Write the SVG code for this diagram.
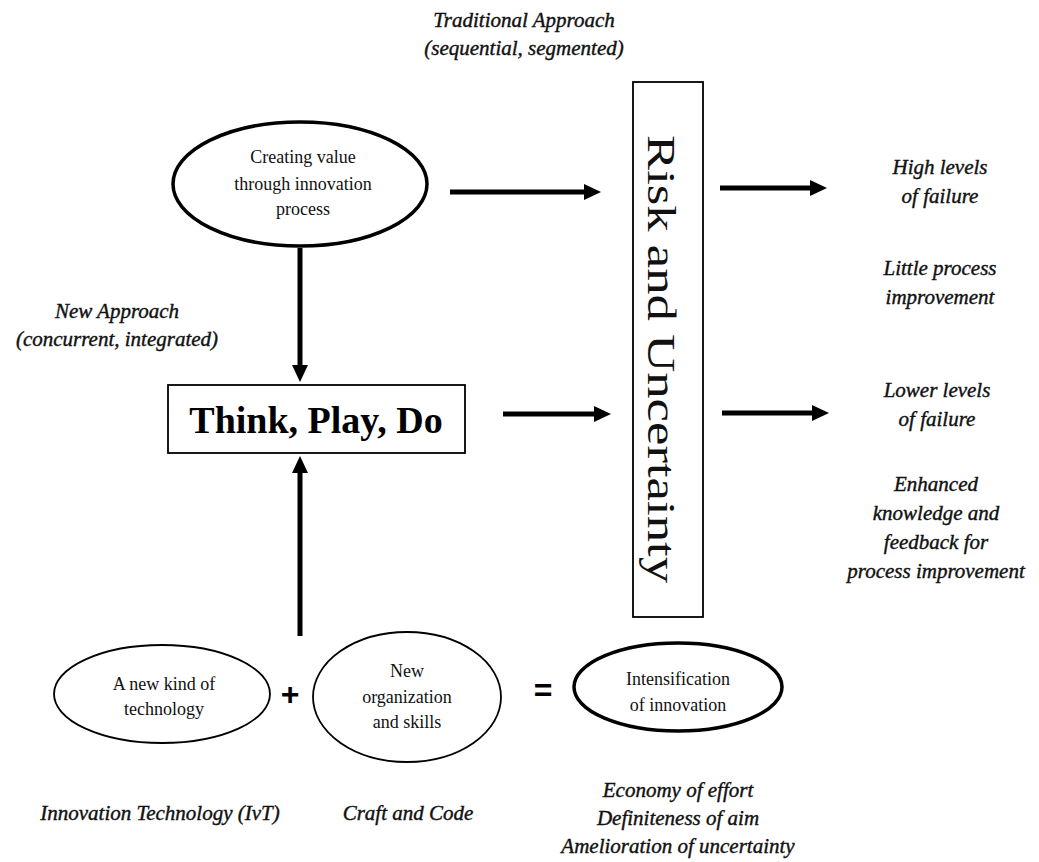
<svg xmlns="http://www.w3.org/2000/svg" width="1039" height="862" viewBox="0 0 1039 862">
  <style>
    .bg { fill: #ffffff; }
    .node-text { font-family: "Liberation Serif", "Times New Roman", serif; font-size: 18px; fill: #111; text-anchor: middle; }
    .note { font-family: "Liberation Serif", "Times New Roman", serif; font-style: italic; font-size: 21px; fill: #111; stroke: #111; stroke-width: 0.4; text-anchor: middle; }
    .thick { fill: #fff; stroke: #000; stroke-width: 3.5; }
    .thin { fill: #fff; stroke: #000; stroke-width: 1.8; }
    .box { fill: #fff; stroke: #000; stroke-width: 1.8; }
    .arrow { stroke: #000; stroke-width: 5; fill: none; marker-end: url(#head); }
    .op { font-family: "Liberation Sans", Arial, sans-serif; font-weight: bold; font-size: 32px; fill: #000; text-anchor: middle; }
  </style>
  <defs>
    <marker id="head" markerUnits="userSpaceOnUse" markerWidth="18" markerHeight="18" refX="2" refY="9" orient="auto">
      <path d="M0,1 L17,9 L0,17 Z" fill="#000"/>
    </marker>
  </defs>
  <rect class="bg" x="0" y="0" width="1039" height="862"/>

  <!-- connectors -->
  <g id="connectors">
    <line class="arrow" x1="450" y1="192" x2="586" y2="192"/>
    <line class="arrow" x1="720" y1="188" x2="812" y2="188"/>
    <line class="arrow" x1="503" y1="414" x2="596" y2="414"/>
    <line class="arrow" x1="722" y1="413" x2="814" y2="413"/>
    <line class="arrow" x1="300" y1="248" x2="300" y2="367"/>
    <line class="arrow" x1="300" y1="636" x2="300" y2="471"/>
  </g>

  <!-- top ellipse -->
  <g id="creating-value">
    <ellipse class="thick" cx="300" cy="184" rx="127" ry="62"/>
    <text class="node-text" x="303" y="163">Creating value</text>
    <text class="node-text" x="303" y="190">through innovation</text>
    <text class="node-text" x="303" y="215">process</text>
  </g>

  <!-- central box -->
  <g id="think-play-do">
    <rect class="box" x="168" y="385" width="297" height="68"/>
    <text x="316" y="433" font-family="Liberation Serif, Times New Roman, serif" font-weight="bold" font-size="38" fill="#000" text-anchor="middle">Think, Play, Do</text>
  </g>

  <!-- vertical risk box -->
  <g id="risk-uncertainty">
    <rect class="box" x="633" y="82" width="70" height="535"/>
    <text transform="translate(648,135) rotate(90)" font-family="Liberation Serif, Times New Roman, serif" font-size="41" fill="#111" textLength="448" lengthAdjust="spacingAndGlyphs">Risk and Uncertainty</text>
  </g>

  <!-- bottom ellipses -->
  <g id="new-technology">
    <ellipse class="thin" cx="162" cy="694" rx="108" ry="49"/>
    <text class="node-text" x="164" y="690">A new kind of</text>
    <text class="node-text" x="164" y="715">technology</text>
  </g>
  <g id="plus">
    <text class="op" x="290" y="705">+</text>
  </g>
  <g id="new-organization">
    <ellipse class="thin" cx="407" cy="697" rx="94" ry="65"/>
    <text class="node-text" x="407" y="677">New</text>
    <text class="node-text" x="407" y="703">organization</text>
    <text class="node-text" x="407" y="728">and skills</text>
  </g>
  <g id="equals">
    <text class="op" x="543" y="701">=</text>
  </g>
  <g id="intensification">
    <ellipse class="thick" cx="678" cy="687" rx="104" ry="44"/>
    <text class="node-text" x="678" y="685">Intensification</text>
    <text class="node-text" x="678" y="711">of innovation</text>
  </g>

  <!-- labels -->
  <g id="traditional-approach">
    <text class="note" x="524" y="27">Traditional Approach</text>
    <text class="note" x="524" y="55">(sequential, segmented)</text>
  </g>
  <g id="new-approach">
    <text class="note" x="117" y="318">New Approach</text>
    <text class="note" x="117" y="346">(concurrent, integrated)</text>
  </g>
  <g id="outcomes-traditional">
    <text class="note" x="940" y="174">High levels</text>
    <text class="note" x="940" y="203">of failure</text>
    <text class="note" x="940" y="275">Little process</text>
    <text class="note" x="940" y="304">improvement</text>
  </g>
  <g id="outcomes-new">
    <text class="note" x="937" y="397">Lower levels</text>
    <text class="note" x="937" y="426">of failure</text>
    <text class="note" x="936" y="491">Enhanced</text>
    <text class="note" x="936" y="520">knowledge and</text>
    <text class="note" x="936" y="549">feedback for</text>
    <text class="note" x="936" y="578">process improvement</text>
  </g>
  <g id="ivt-label">
    <text class="note" x="160" y="820">Innovation Technology (IvT)</text>
  </g>
  <g id="craft-label">
    <text class="note" x="408" y="820">Craft and Code</text>
  </g>
  <g id="intensification-notes">
    <text class="note" x="678" y="797">Economy of effort</text>
    <text class="note" x="678" y="825">Definiteness of aim</text>
    <text class="note" x="678" y="853">Amelioration of uncertainty</text>
  </g>
</svg>
